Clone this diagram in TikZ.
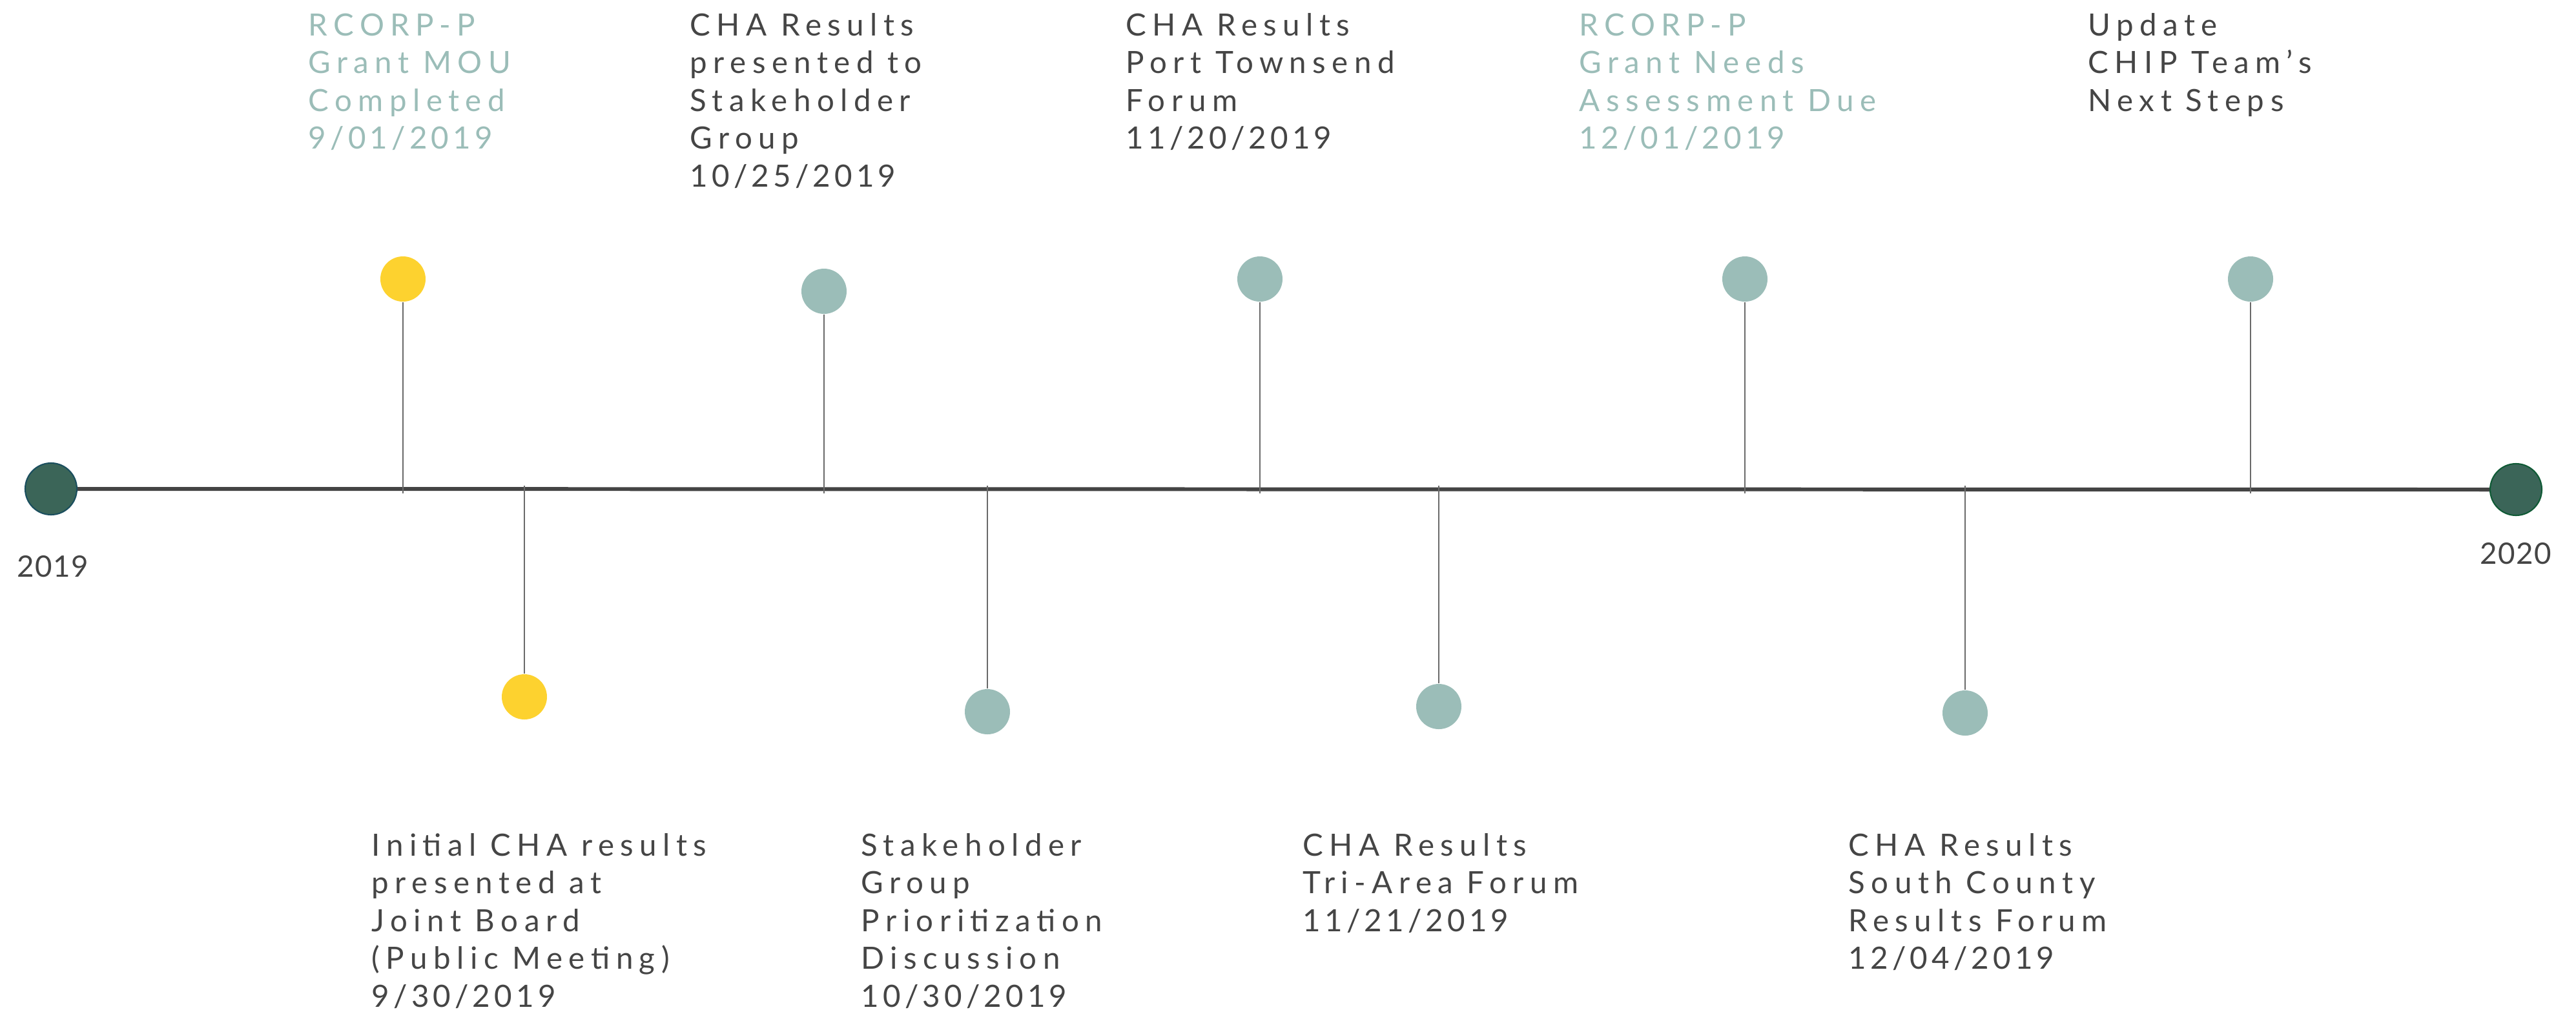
\documentclass[tikz,border=0pt]{standalone}
\usepackage{fontspec}
\setmainfont{Lato}[LetterSpace=20]
\newfontfamily\datefont{Lato}[LetterSpace=13]
\newfontfamily\yearfont{Lato}[LetterSpace=3]
\definecolor{txtdark}{HTML}{454545}
\definecolor{evteal}{HTML}{9BBDB8}
\definecolor{evyellow}{HTML}{FDD22F}
\definecolor{endgreen}{HTML}{3B6558}
\definecolor{endblueedge}{HTML}{1A4E5E}
\definecolor{endgreenedge}{HTML}{0F5A35}
\definecolor{leadgray}{HTML}{6A6A6A}
\definecolor{linegray}{HTML}{444444}
\newcommand\lns[1]{\begin{tabular}[t]{@{}l@{}}#1\end{tabular}}
\begin{document}
\begin{tikzpicture}[x=1cm,y=1cm,
  ev/.style={circle, inner sep=0pt, minimum size=0.70cm},
  tealev/.style={ev, fill=evteal},
  yellowev/.style={ev, fill=evyellow},
  endpt/.style={circle, inner sep=0pt, minimum size=0.80cm, fill=endgreen, line width=0.6pt},
  leader/.style={draw=leadgray, line width=0.6pt},
  mainline/.style={draw=linegray, line width=1.7pt},
  lbl/.style={anchor=base west, inner sep=0pt, text=txtdark, font=\fontsize{13.5}{16.67}\selectfont},
  tlbl/.style={lbl, text=evteal},
  year/.style={anchor=base, inner sep=0pt, text=txtdark, font=\yearfont\fontsize{13}{15}\selectfont}
]
\useasboundingbox (0,0) rectangle (39.89,-15.66);

% main line
\node[endpt, draw=endblueedge] (start) at (0.79,-7.57) {};
\node[endpt, draw=endgreenedge] (end) at (38.96,-7.58) {};
\draw[mainline] (start) -- (end);

% events
\node[yellowev] (e1) at (6.24,-4.32) {};
\node[yellowev] (e2) at (8.12,-10.79) {};
\node[tealev] (e3) at (12.76,-4.51) {};
\node[tealev] (e4) at (15.29,-11.02) {};
\node[tealev] (e5) at (19.51,-4.32) {};
\node[tealev] (e6) at (22.28,-10.94) {};
\node[tealev] (e7) at (27.02,-4.32) {};
\node[tealev] (e8) at (30.43,-11.04) {};
\node[tealev] (e9) at (34.85,-4.32) {};

% points on the line
\coordinate (l1) at (6.24,-7.64);
\coordinate (l2) at (8.12,-7.52);
\coordinate (l3) at (12.76,-7.64);
\coordinate (l4) at (15.29,-7.52);
\coordinate (l5) at (19.51,-7.64);
\coordinate (l6) at (22.28,-7.52);
\coordinate (l7) at (27.02,-7.64);
\coordinate (l8) at (30.43,-7.52);
\coordinate (l9) at (34.85,-7.64);

\foreach \i in {1,...,9} {\draw[leader] (e\i) -- (l\i);}

% year labels
\node[year] (y19) at (0.82,-8.93) {2019};
\node[year] (y20) at (38.96,-8.73) {2020};

% top labels
\node[tlbl] (t1) at (4.77,-0.55) {\lns{RCORP-P\\Grant MOU\\Completed\\\datefont 9/01/2019}};
\node[lbl] (t3) at (10.68,-0.55) {\lns{CHA Results\\presented to\\Stakeholder\\Group\\\datefont 10/25/2019}};
\node[lbl] (t5) at (17.43,-0.55) {\lns{CHA Results\\Port Townsend\\Forum\\\datefont 11/20/2019}};
\node[tlbl] (t7) at (24.45,-0.55) {\lns{RCORP-P\\Grant Needs\\Assessment Due\\\datefont 12/01/2019}};
\node[lbl] (t9) at (32.33,-0.55) {\lns{Update\\CHIP Team’s\\Next Steps}};

% bottom labels
\node[lbl] (b2) at (5.75,-13.25) {\lns{Initial CHA results\\presented at\\Joint Board\\(Public Meeting)\\\datefont 9/30/2019}};
\node[lbl] (b4) at (13.33,-13.25) {\lns{Stakeholder\\Group\\Prioritization\\Discussion\\\datefont 10/30/2019}};
\node[lbl] (b6) at (20.17,-13.25) {\lns{CHA Results\\Tri-Area Forum\\\datefont 11/21/2019}};
\node[lbl] (b8) at (28.62,-13.25) {\lns{CHA Results\\South County\\Results Forum\\\datefont 12/04/2019}};
\end{tikzpicture}
\end{document}
